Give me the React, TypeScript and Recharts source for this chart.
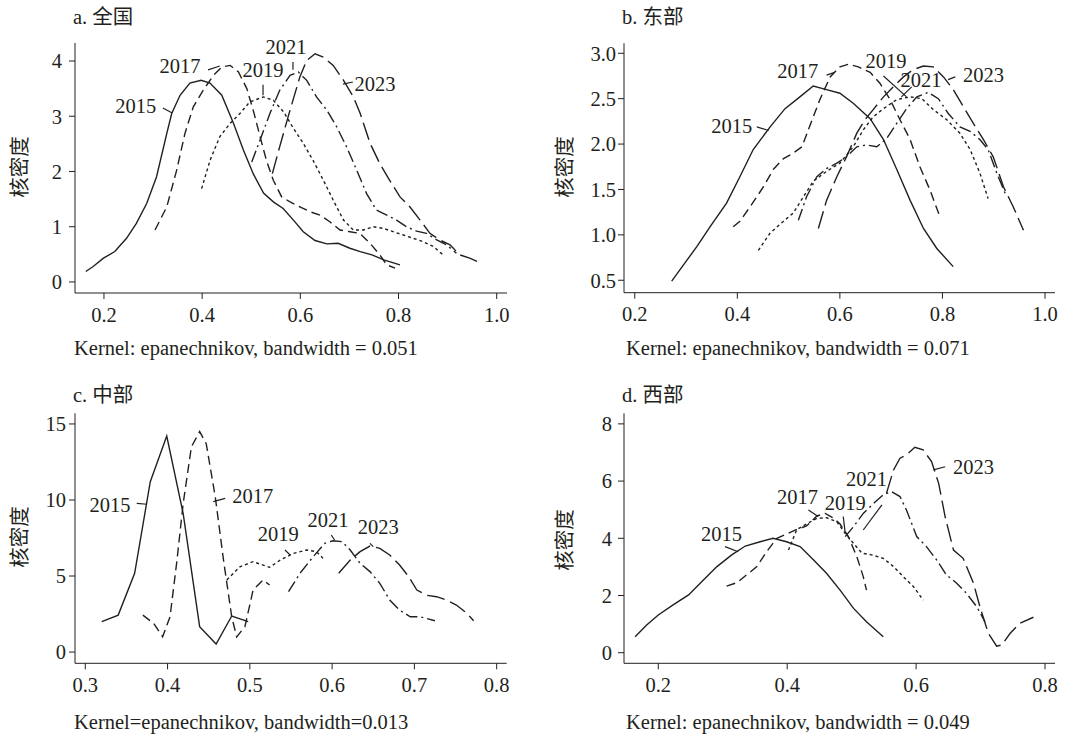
import React from 'react';
import { LineChart, Line, XAxis, YAxis, ReferenceDot, ReferenceLine } from 'recharts';

type Pair = [number, number];
type Seg = [Pair, Pair];

const years = ['2015', '2017', '2019', '2021', '2023'];
// solid, dash, shortdash, dash-dot, longdash (Stata style)
const dashes: (string | undefined)[] = [undefined, '9 5', '3 3', '12 4 2 4', '18 6'];

// a. 全国
const qg2015: Pair[] = [[0.163,0.19],[0.178,0.28],[0.199,0.43],[0.222,0.55],[0.246,0.79],[0.266,1.06],[0.287,1.42],[0.307,1.9],[0.328,2.69],[0.338,3.05],[0.355,3.38],[0.375,3.6],[0.398,3.65],[0.416,3.6],[0.44,3.38],[0.464,2.87],[0.484,2.39],[0.504,1.96],[0.525,1.61],[0.545,1.45],[0.565,1.33],[0.586,1.12],[0.606,0.91],[0.63,0.75],[0.654,0.69],[0.677,0.7],[0.701,0.61],[0.722,0.55],[0.746,0.49],[0.77,0.4],[0.803,0.31]];
const qg2017: Pair[] = [[0.304,0.94],[0.328,1.36],[0.348,2.02],[0.365,2.69],[0.382,3.17],[0.402,3.47],[0.423,3.74],[0.44,3.89],[0.457,3.92],[0.474,3.8],[0.491,3.5],[0.504,3.11],[0.518,2.63],[0.531,2.2],[0.545,1.84],[0.562,1.54],[0.579,1.45],[0.599,1.36],[0.62,1.27],[0.64,1.21],[0.66,1.09],[0.681,0.94],[0.701,0.91],[0.721,0.88],[0.742,0.7],[0.762,0.49],[0.776,0.31],[0.793,0.25]];
const qg2019: Pair[] = [[0.399,1.69],[0.416,2.2],[0.436,2.63],[0.457,2.87],[0.477,3.05],[0.497,3.26],[0.525,3.35],[0.545,3.29],[0.566,3.08],[0.586,2.78],[0.606,2.51],[0.626,2.2],[0.647,1.84],[0.667,1.48],[0.688,1.12],[0.708,0.94],[0.728,0.94],[0.749,1.0],[0.769,0.97],[0.789,0.91],[0.81,0.85],[0.83,0.79],[0.85,0.73],[0.871,0.64],[0.891,0.49]];
const qg2021: Pair[] = [[0.501,2.17],[0.518,2.57],[0.538,3.05],[0.558,3.47],[0.579,3.74],[0.596,3.8],[0.613,3.65],[0.633,3.35],[0.654,3.11],[0.674,2.81],[0.694,2.45],[0.715,2.02],[0.735,1.6],[0.755,1.3],[0.776,1.21],[0.796,1.12],[0.816,1.0],[0.837,0.92],[0.857,0.88],[0.878,0.76],[0.898,0.67],[0.918,0.52]];
const qg2023: Pair[] = [[0.543,1.96],[0.558,2.45],[0.579,3.11],[0.599,3.71],[0.613,4.01],[0.63,4.13],[0.647,4.07],[0.667,3.92],[0.688,3.65],[0.708,3.35],[0.722,3.05],[0.742,2.51],[0.762,2.14],[0.782,1.84],[0.803,1.54],[0.823,1.36],[0.844,1.12],[0.864,0.88],[0.884,0.76],[0.905,0.67],[0.925,0.49],[0.945,0.43],[0.969,0.34]];
const qgLabels: Pair[] = [[0.265,3.19],[0.355,3.91],[0.524,3.84],[0.571,4.25],[0.752,3.58]];
const qgLeaders: Seg[] = [[[0.32,3.15],[0.339,3.06]],[[0.412,3.84],[0.436,3.91]],[[0.524,3.57],[0.524,3.38]],[[0.585,3.98],[0.585,3.84]],[[0.687,3.58],[0.707,3.62]]];

// b. 东部
const db2015: Pair[] = [[0.272,0.49],[0.295,0.67],[0.321,0.87],[0.347,1.09],[0.379,1.35],[0.405,1.64],[0.431,1.94],[0.464,2.19],[0.493,2.39],[0.522,2.52],[0.548,2.64],[0.574,2.6],[0.6,2.56],[0.626,2.45],[0.659,2.28],[0.685,2.05],[0.711,1.72],[0.737,1.38],[0.763,1.07],[0.789,0.85],[0.821,0.65]];
const db2017: Pair[] = [[0.392,1.09],[0.405,1.15],[0.425,1.31],[0.451,1.53],[0.47,1.72],[0.49,1.84],[0.509,1.9],[0.526,1.97],[0.542,2.21],[0.561,2.49],[0.581,2.74],[0.6,2.85],[0.617,2.88],[0.636,2.85],[0.659,2.79],[0.678,2.67],[0.698,2.49],[0.717,2.27],[0.737,2.05],[0.756,1.75],[0.776,1.49],[0.795,1.2]];
const db2019: Pair[] = [[0.441,0.83],[0.464,1.02],[0.49,1.15],[0.509,1.24],[0.529,1.42],[0.548,1.59],[0.574,1.7],[0.6,1.79],[0.626,1.97],[0.646,2.16],[0.665,2.3],[0.685,2.39],[0.711,2.49],[0.737,2.52],[0.76,2.5],[0.782,2.38],[0.808,2.27],[0.834,2.12],[0.854,1.94],[0.873,1.68],[0.889,1.4]];
const db2021: Pair[] = [[0.519,1.16],[0.535,1.42],[0.555,1.64],[0.574,1.73],[0.594,1.79],[0.613,1.86],[0.633,1.97],[0.652,1.99],[0.672,1.97],[0.691,2.06],[0.711,2.23],[0.73,2.39],[0.75,2.52],[0.772,2.57],[0.792,2.5],[0.811,2.34],[0.834,2.19],[0.854,2.14],[0.873,2.05],[0.889,1.94],[0.906,1.68],[0.925,1.42]];
const db2023: Pair[] = [[0.558,1.07],[0.574,1.38],[0.594,1.64],[0.613,1.86],[0.633,2.12],[0.649,2.27],[0.665,2.38],[0.685,2.52],[0.704,2.63],[0.724,2.74],[0.743,2.82],[0.763,2.86],[0.782,2.85],[0.802,2.74],[0.821,2.6],[0.841,2.41],[0.86,2.23],[0.88,2.05],[0.899,1.86],[0.919,1.53],[0.938,1.31],[0.958,1.05]];
const dbLabels: Pair[] = [[0.389,2.2],[0.518,2.81],[0.69,2.92],[0.758,2.71],[0.88,2.76]];
const dbLeaders: Seg[] = [[[0.438,2.19],[0.461,2.15]],[[0.574,2.76],[0.59,2.79]],[[0.685,2.75],[0.73,2.52]],[[0.74,2.63],[0.72,2.52]],[[0.811,2.71],[0.825,2.74]]];

// c. 中部
const zb2015: Pair[] = [[0.32,2.0],[0.34,2.43],[0.36,5.18],[0.379,11.2],[0.399,14.2],[0.419,9.1],[0.439,1.67],[0.459,0.53],[0.478,2.37],[0.498,2.0]];
const zb2017: Pair[] = [[0.37,2.43],[0.383,1.89],[0.394,1.0],[0.403,2.32],[0.411,5.83],[0.419,9.78],[0.429,13.5],[0.439,14.5],[0.447,13.7],[0.458,10.2],[0.468,6.05],[0.478,2.32],[0.484,1.0],[0.494,1.67],[0.504,4.08],[0.516,4.74],[0.524,4.41]];
const zb2019: Pair[] = [[0.472,4.74],[0.488,5.61],[0.504,5.94],[0.516,5.72],[0.524,5.57],[0.537,6.05],[0.553,6.49],[0.569,6.71],[0.581,6.6],[0.589,6.16]];
const zb2021: Pair[] = [[0.547,3.97],[0.561,5.18],[0.577,6.27],[0.591,7.15],[0.601,7.32],[0.612,7.26],[0.622,6.71],[0.634,5.83],[0.646,5.29],[0.658,4.52],[0.67,3.42],[0.682,2.76],[0.695,2.32],[0.707,2.32],[0.725,2.06]];
const zb2023: Pair[] = [[0.608,5.18],[0.622,6.05],[0.634,6.6],[0.646,6.97],[0.658,6.82],[0.67,6.38],[0.682,5.72],[0.693,4.96],[0.703,4.08],[0.715,3.73],[0.727,3.64],[0.739,3.42],[0.751,3.09],[0.764,2.54],[0.772,2.06]];
const zbLabels: Pair[] = [[0.33,9.67],[0.5035,10.26],[0.5346,7.81],[0.595,8.68],[0.656,8.24]];
const zbLeaders: Seg[] = [[[0.3625,9.78],[0.375,9.72]],[[0.4556,9.89],[0.47,10.11]],[[0.5427,6.71],[0.549,6.38]],[[0.599,7.7],[0.603,7.37]],[[0.646,7.15],[0.65,6.93]]];

// d. 西部
const xb2015: Pair[] = [[0.164,0.56],[0.182,0.97],[0.2,1.32],[0.223,1.67],[0.247,2.02],[0.27,2.54],[0.291,3.01],[0.314,3.42],[0.335,3.73],[0.358,3.88],[0.378,4.0],[0.399,3.88],[0.42,3.71],[0.441,3.24],[0.461,2.78],[0.482,2.19],[0.503,1.55],[0.523,1.08],[0.549,0.56]];
const xb2017: Pair[] = [[0.306,2.33],[0.322,2.45],[0.337,2.72],[0.353,3.01],[0.368,3.53],[0.384,4.0],[0.399,4.15],[0.415,4.31],[0.43,4.43],[0.446,4.78],[0.459,4.87],[0.472,4.7],[0.482,4.5],[0.495,4.06],[0.508,3.36],[0.518,2.66],[0.523,2.19]];
const xb2019: Pair[] = [[0.402,3.59],[0.415,4.31],[0.43,4.5],[0.446,4.7],[0.461,4.72],[0.477,4.58],[0.49,4.17],[0.503,3.82],[0.516,3.48],[0.531,3.42],[0.549,3.3],[0.565,3.01],[0.58,2.66],[0.596,2.31],[0.611,1.84]];
const xb2021: Pair[] = [[0.49,4.06],[0.503,4.41],[0.518,4.87],[0.534,5.22],[0.549,5.52],[0.562,5.63],[0.575,5.46],[0.585,4.99],[0.601,4.06],[0.616,3.71],[0.632,3.24],[0.647,2.72],[0.663,2.43],[0.678,2.08],[0.694,1.61],[0.707,1.08]];
const xb2023: Pair[] = [[0.554,5.57],[0.565,6.39],[0.575,6.8],[0.585,6.92],[0.598,7.18],[0.611,7.09],[0.624,6.68],[0.635,5.92],[0.645,4.76],[0.658,3.59],[0.673,3.3],[0.689,2.43],[0.699,1.61],[0.712,0.68],[0.725,0.23],[0.733,0.27],[0.746,0.68],[0.761,1.03],[0.782,1.24]];
const xbLabels: Pair[] = [[0.298,4.15],[0.416,5.46],[0.49,5.23],[0.523,6.1],[0.689,6.5]];
const xbLeaders: Seg[] = [[[0.3035,3.71],[0.324,3.53]],[[0.433,4.99],[0.448,4.76]],[[0.487,4.76],[0.49,4.18]],[[0.547,5.17],[0.518,4.29]],[[0.627,6.39],[0.645,6.5]]];

const FONT = "'Liberation Serif', 'Times New Roman', 'Noto Sans CJK SC', serif";
const INK = '#231f20';
const FS = 20.5;

const toPts = (arr: Pair[]) => arr.map(([x, y]) => ({ x, y }));

interface PanelProps {
  ox: number; oy: number; w: number; h: number;
  plot: { l: number; t: number; r: number; b: number };
  xDomain: [number, number]; xTicks: number[];
  yDomain: [number, number]; yTicks: number[]; yDigits: number; yTickMargin: number;
  series: Pair[][]; labels: Pair[]; leaders: Seg[];
  title: string; titlePos: [number, number];
  caption: string; capPos: [number, number];
  ylabPos: [number, number];
}

const Panel: React.FC<PanelProps> = (p) => {
  const margin = { top: p.plot.t - p.oy, right: p.ox + p.w - p.plot.r, bottom: p.oy + p.h - p.plot.b - 40, left: 0 };
  const tickStyle = { fontSize: FS, fill: INK, fontFamily: FONT };
  const txt: React.CSSProperties = { position: 'absolute', fontSize: FS, lineHeight: '20px', whiteSpace: 'nowrap', color: INK };
  return (
    <div style={{ position: 'absolute', left: p.ox, top: p.oy, width: p.w, height: p.h }}>
      <LineChart width={p.w} height={p.h} margin={margin}>
        <XAxis type="number" dataKey="x" domain={p.xDomain} ticks={p.xTicks} allowDataOverflow height={40}
          tickSize={6} tickMargin={8} tick={tickStyle} stroke={INK} tickFormatter={(v: number) => v.toFixed(1)} />
        <YAxis type="number" domain={p.yDomain} ticks={p.yTicks} allowDataOverflow width={p.plot.l - p.ox}
          tickSize={6} tickMargin={p.yTickMargin} tick={tickStyle} stroke={INK} tickFormatter={(v: number) => v.toFixed(p.yDigits)} />
        {p.series.map((s, i) => (
          <Line key={years[i]} data={toPts(s)} dataKey="y" type="linear" dot={false} activeDot={false}
            stroke={INK} strokeWidth={1.4} strokeDasharray={dashes[i]} isAnimationActive={false} />
        ))}
        {p.leaders.map((seg, i) => (
          <ReferenceLine key={'l' + i} segment={[{ x: seg[0][0], y: seg[0][1] }, { x: seg[1][0], y: seg[1][1] }]}
            stroke={INK} strokeWidth={1.2} ifOverflow="visible" />
        ))}
        {p.labels.map((pt, i) => (
          <ReferenceDot key={'t' + i} x={pt[0]} y={pt[1]} r={0} fill="none" stroke="none" ifOverflow="visible"
            label={{ value: years[i], position: 'center', fontSize: FS, fill: INK, fontFamily: FONT }} />
        ))}
      </LineChart>
      <div style={{ ...txt, left: p.titlePos[0] - p.ox, top: p.titlePos[1] - p.oy - 10 }}>{p.title}</div>
      <div style={{ ...txt, left: p.capPos[0] - p.ox, top: p.capPos[1] - p.oy - 10 }}>{p.caption}</div>
      <div style={{ ...txt, left: p.ylabPos[0] - p.ox - 40, top: p.ylabPos[1] - p.oy - 10, width: 80, textAlign: 'center', transform: 'rotate(-90deg)' }}>核密度</div>
    </div>
  );
};

export default function App() {
  return (
    <div style={{ position: 'absolute', left: 0, top: 0, width: 1082, height: 736, background: '#fff', fontFamily: FONT }}>
      <Panel ox={0} oy={0} w={541} h={370} plot={{ l: 75, t: 43, r: 507, b: 293 }}
        xDomain={[0.141, 1.021]} xTicks={[0.2, 0.4, 0.6, 0.8, 1.0]}
        yDomain={[-0.2, 4.326]} yTicks={[0, 1, 2, 3, 4]} yDigits={0} yTickMargin={7}
        series={[qg2015, qg2017, qg2019, qg2021, qg2023]} labels={qgLabels} leaders={qgLeaders}
        title="a. 全国" titlePos={[73, 17]}
        caption="Kernel: epanechnikov, bandwidth = 0.051" capPos={[74, 348]} ylabPos={[20, 167]} />
      <Panel ox={541} oy={0} w={541} h={370} plot={{ l: 624, t: 43.3, r: 1055, b: 292.7 }}
        xDomain={[0.179, 1.0195]} xTicks={[0.2, 0.4, 0.6, 0.8, 1.0]}
        yDomain={[0.363, 3.11]} yTicks={[0.5, 1.0, 1.5, 2.0, 2.5, 3.0]} yDigits={1} yTickMargin={2}
        series={[db2015, db2017, db2019, db2021, db2023]} labels={dbLabels} leaders={dbLeaders}
        title="b. 东部" titlePos={[622, 17]}
        caption="Kernel: epanechnikov, bandwidth = 0.071" capPos={[626, 348]} ylabPos={[565, 167]} />
      <Panel ox={0} oy={370} w={541} h={366} plot={{ l: 75, t: 413.3, r: 506.7, b: 663.3 }}
        xDomain={[0.2875, 0.8122]} xTicks={[0.3, 0.4, 0.5, 0.6, 0.7, 0.8]}
        yDomain={[-0.74, 15.7]} yTicks={[0, 5, 10, 15]} yDigits={0} yTickMargin={3}
        series={[zb2015, zb2017, zb2019, zb2021, zb2023]} labels={zbLabels} leaders={zbLeaders}
        title="c. 中部" titlePos={[73, 395]}
        caption="Kernel=epanechnikov, bandwidth=0.013" capPos={[74, 721.7]} ylabPos={[20, 537]} />
      <Panel ox={541} oy={370} w={541} h={366} plot={{ l: 624, t: 413.3, r: 1055, b: 663.3 }}
        xDomain={[0.1468, 0.8155]} xTicks={[0.2, 0.4, 0.6, 0.8]}
        yDomain={[-0.37, 8.37]} yTicks={[0, 2, 4, 6, 8]} yDigits={0} yTickMargin={6}
        series={[xb2015, xb2017, xb2019, xb2021, xb2023]} labels={xbLabels} leaders={xbLeaders}
        title="d. 西部" titlePos={[622, 395]}
        caption="Kernel: epanechnikov, bandwidth = 0.049" capPos={[626, 721.7]} ylabPos={[565, 540]} />
    </div>
  );
}
